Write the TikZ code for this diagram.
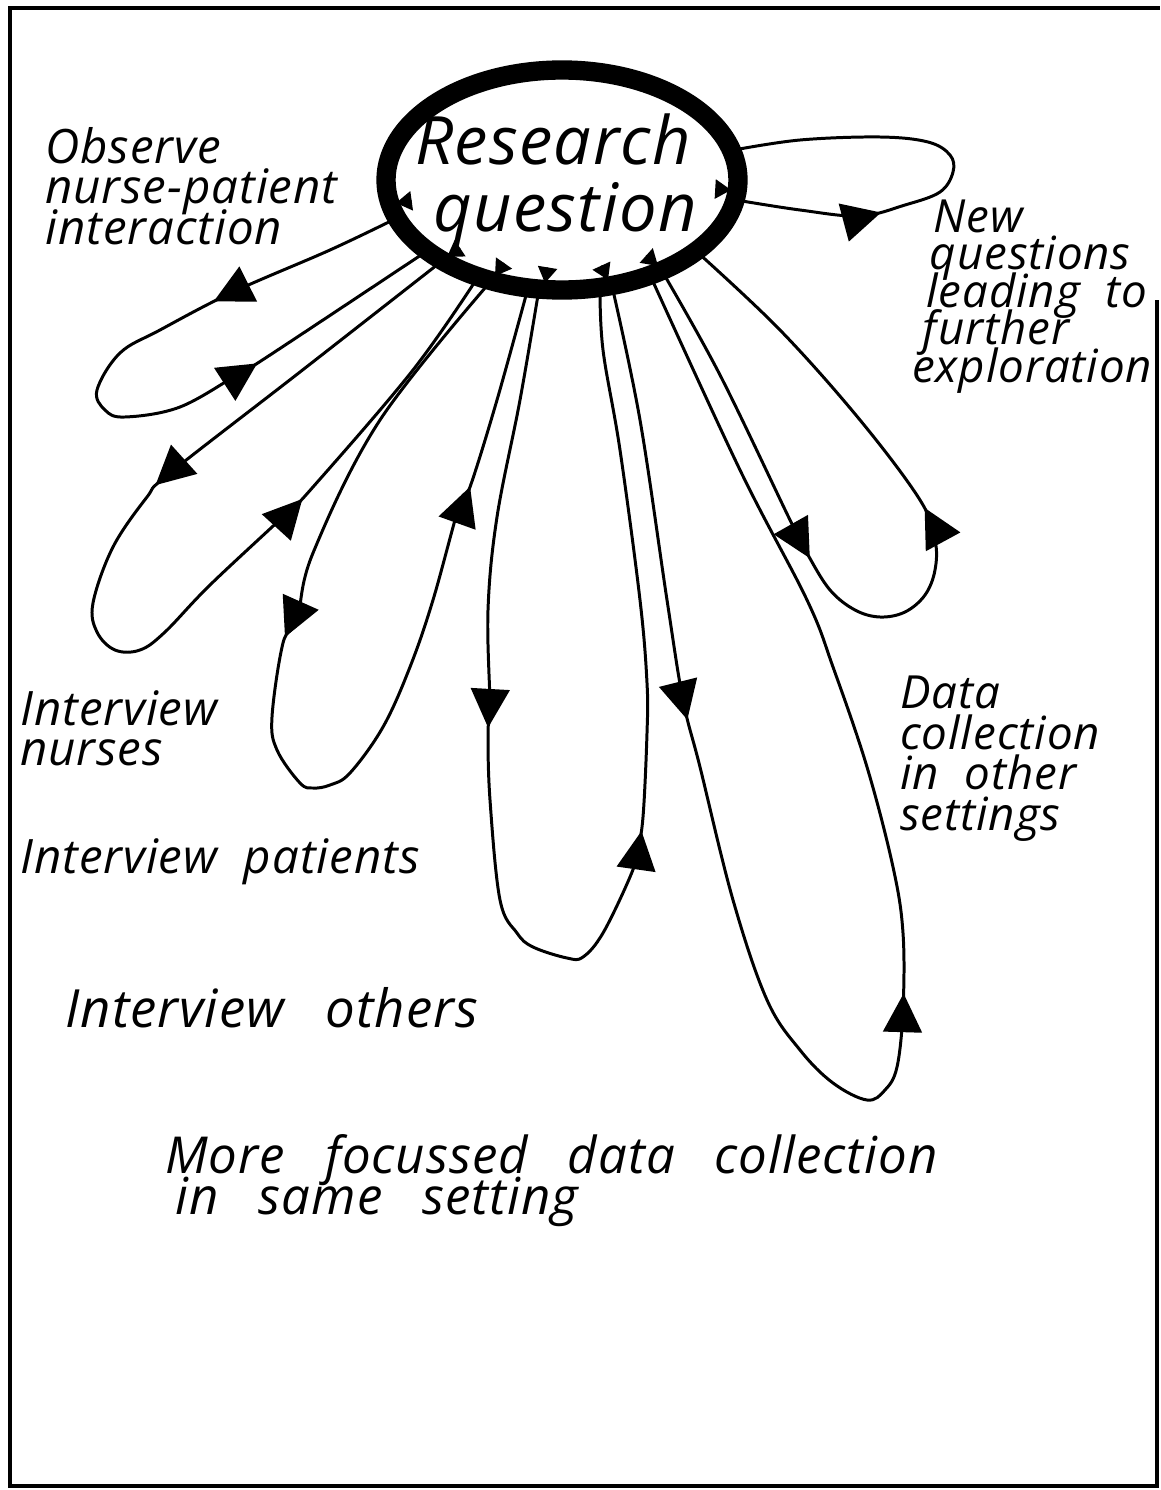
\documentclass[tikz,border=0pt]{standalone}
\usepackage{fontspec}
\setmainfont{Open Sans}[WordSpace=2,LetterSpace=2]
\newfontfamily\widefont{Open Sans}[WordSpace=2.8,LetterSpace=2]
\usepackage{tikz}
\usetikzlibrary{arrows.meta,positioning,decorations.markings,calc}
\lineskiplimit=-100pt

\begin{document}
\begin{tikzpicture}[x=0.02cm,y=-0.02cm,
  petal/.style={line width=1.7pt,line join=round},
  arrowat/.style={postaction={decorate,decoration={markings,
    mark=at position #1 with {\arrow{Triangle[length=22pt,width=22pt]}}}}},
  tinytip/.style={line width=1pt,-{Triangle[length=9pt,width=11pt]}},
  lbl/.style={font=\fontsize{27}{22}\selectfont\itshape,
    align=left,anchor=base west,inner sep=0pt},
  big/.style={font=\fontsize{38}{40}\selectfont\itshape,anchor=base,inner sep=0pt}]
  \useasboundingbox (0,0) rectangle (1160,1490);
  \draw[line width=1.8pt] (1157,300) -- (1157,1486) -- (10,1486) -- (10,8) -- (1160,8);

  % the research question
  \coordinate (rq) at (562,180);
  \draw[line width=11pt] (rq) ellipse [x radius=176,y radius=110];
  \node[big] (res) at (553,165) {Research};
  \node[big] (que) at (565,232) {question};
  \foreach \x/\y in {396/203,447/257,495/276,545/283,608/280,658/266,731/190}
    \draw[tinytip] ($(\x,\y)!9pt!(rq)$) -- (\x,\y);

  % where each loop leaves and comes back
  \coordinate (l1o) at (397,218);  \coordinate (l1i) at (427,251);
  \coordinate (p2o) at (442,261);  \coordinate (p2i) at (478,277);
  \coordinate (p3o) at (491,281);  \coordinate (p3i) at (528,288);
  \coordinate (p4o) at (539,289);  \coordinate (p4i) at (600,288);
  \coordinate (p5o) at (612,286);  \coordinate (p5i) at (650,275);
  \coordinate (p6o) at (662,271);  \coordinate (p6i) at (696,251);
  \coordinate (p7o) at (736,200);  \coordinate (p7i) at (734,150);

  % loops
  \draw[petal,arrowat=.27,arrowat=.727] plot[smooth,tension=.6] coordinates {(l1o) (330,250) (233,292) (160,330) (120,353) (97,390) (105,410) (125,417) (180,407) (240,373) (267,357) (l1i)};
  \draw[petal,arrowat=.335,arrowat=.739] plot[smooth,tension=.6] coordinates {(p2o) (300,372) (170,473) (147,497) (113,547) (93,603) (97,632) (115,650) (140,650) (165,632) (210,585) (287,513) (313,487) (413,370) (p2i)};
  \draw[petal,arrowat=.363,arrowat=.82] plot[smooth,tension=.6] coordinates {(p3o) (380,420) (313,553) (297,620) (283,643) (272,717) (277,750) (300,783) (313,788) (330,785) (350,773) (383,727) (410,667) (433,600) (460,503) (470,487) (497,400) (p3i)};
  \draw[petal,arrowat=.313,arrowat=.614] plot[smooth,tension=.6] coordinates {(p4o) (520,400) (497,517) (488,610) (490,707) (488,733) (490,800) (500,900) (517,933) (533,947) (567,958) (583,957) (603,933) (630,877) (637,853) (643,817) (647,733) (647,683) (640,600) (620,450) (603,350) (p4i)};
  \draw[petal,arrowat=.249,arrowat=.565] plot[smooth,tension=.6] coordinates {(p5o) (640,420) (667,600) (683,700) (700,767) (733,900) (767,1000) (800,1050) (833,1083) (867,1100) (885,1090) (897,1067) (903,1010) (903,933) (893,867) (867,767) (833,667) (807,600) (740,470) (p5i)};
  \draw[petal,arrowat=.356,arrowat=.62] plot[smooth,tension=.6] coordinates {(p6o) (720,375) (790,520) (808,555) (830,590) (855,610) (880,617) (905,612) (925,595) (935,570) (935,540) (920,500) (860,420) (780,330) (p6i)};
  \draw[petal,arrowat=.31] plot[smooth,tension=.6] coordinates {(p7o) (800,210) (860,216) (905,205) (940,192) (953,172) (950,155) (928,142) (880,137) (800,140) (p7i)};

  % labels (anchored at the last line)
  \node[lbl,font=\fontsize{27}{23}\selectfont\itshape] (obs) at (45,244) {Observe\\nurse-patient\\interaction};
  \node[lbl,font=\fontsize{26}{21.3}\selectfont\itshape] (new) at (912,382) {\hspace*{12pt}New\\\hspace*{10pt}questions\\\hspace*{8pt}leading to\\\hspace*{6pt}further\\exploration};
  \node[lbl,font=\fontsize{27}{22.5}\selectfont\itshape] (nur) at (20,765) {Interview\\nurses};
  \node[lbl] (pat) at (20,873) {Interview patients};
  \node[lbl,font=\widefont\fontsize{30}{22}\selectfont\itshape] (oth) at (65,1027) {Interview others};
  \node[lbl,font=\fontsize{26}{23}\selectfont\itshape] (oset) at (900,830) {Data\\collection\\in other\\settings};
  \node[lbl,font=\widefont\fontsize{29}{23}\selectfont\itshape] (same) at (165,1214) {More focussed data collection\\\hspace*{6pt}in same setting};
\end{tikzpicture}
\end{document}
